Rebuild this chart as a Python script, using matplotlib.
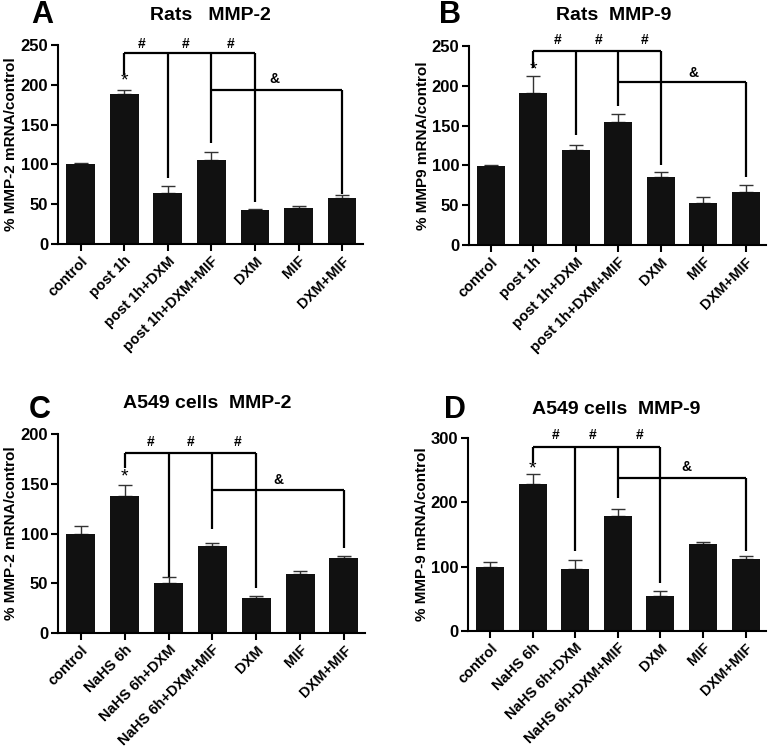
import numpy as np
import matplotlib
matplotlib.use("Agg")
import matplotlib.pyplot as plt

plt.rcParams['font.family'] = ['Liberation Sans', 'DejaVu Sans']
plt.rcParams['font.weight'] = 'bold'

# ---- data ----
rat_labels = ["control", "post 1h", "post 1h+DXM", "post 1h+DXM+MIF", "DXM", "MIF", "DXM+MIF"]
cell_labels = ["control", "NaHS 6h", "NaHS 6h+DXM", "NaHS 6h+DXM+MIF", "DXM", "MIF", "DXM+MIF"]

a_vals = [100, 188, 64, 105, 43, 45, 58]
a_err = [2, 5, 9, 11, 1, 3, 3]
b_vals = [99, 191, 119, 154, 86, 53, 67]
b_err = [2, 21, 6, 10, 6, 7, 8]
c_vals = [100, 138, 50, 87, 35, 59, 75]
c_err = [8, 11, 6, 3, 2, 3, 2]
d_vals = [100, 229, 97, 178, 55, 135, 112]
d_err = [8, 15, 14, 12, 7, 4, 5]

# bracket levels: (# bar level, ends of drops at bars 1..4), (& bar level, end of drop at bar 6)
a_hash = (240, [212, 83, 127, 53])
a_amp = (193, 63)
b_hash = (244, [222, 138, 174, 100])
b_amp = (205, 86)
c_hash = (181, [166, 56, 105, 45])
c_amp = (144, 85)
d_hash = (286, [261, 124, 206, 74])
d_amp = (238, 125)

W, H = 772, 754
fig = plt.figure(figsize=(W / 100, H / 100), dpi=100)


def add_axes(left, top, right, bottom):
    return fig.add_axes([left / W, 1 - bottom / H, (right - left) / W, (bottom - top) / H])


def panel(ax, vals, err, labels, ylim, yticks, ylabel,
          hash_br, amp_br, hash_x, hash_dy, amp_x, amp_dy, star_dy):
    x = np.arange(len(vals))
    ax.bar(x, vals, width=0.66, color='#111111', zorder=2)
    ax.errorbar(x, vals, yerr=[np.zeros(len(vals)), err], fmt='none',
                ecolor='#333333', elinewidth=1.0, capsize=5, capthick=1.0, zorder=1)

    lw = 1.6
    hy, drops = hash_br
    ax.plot([1, 4], [hy, hy], color='black', lw=lw, solid_capstyle='butt')
    for i, end in zip([1, 2, 3, 4], drops):
        ax.plot([i, i], [hy, end], color='black', lw=lw, solid_capstyle='butt')
    ay, aend = amp_br
    ax.plot([3, 6], [ay, ay], color='black', lw=lw, solid_capstyle='butt')
    ax.plot([6, 6], [ay, aend], color='black', lw=lw, solid_capstyle='butt')

    for hx in hash_x:
        ax.text(hx, hy + hash_dy, "#", ha='center', va='center', fontsize=10)
    ax.text(amp_x, ay + amp_dy, "&", ha='center', va='center', fontsize=10)
    ax.text(1, vals[1] + err[1] + star_dy, "*", ha='center', va='center', fontsize=14,
            fontweight='normal')

    ax.set_xlim(-0.52, 6.48)
    ax.set_ylim(*ylim)
    ax.set_yticks(yticks)
    ax.set_xticks(x)
    ax.set_xticklabels(labels, rotation=45, ha='right', rotation_mode='anchor',
                       fontsize=10.5, fontweight='bold')
    for t in ax.get_yticklabels():
        t.set_fontweight('bold')
        t.set_fontsize(12)
    ax.spines['top'].set_visible(False)
    ax.spines['right'].set_visible(False)
    ax.spines['left'].set_linewidth(1.5)
    ax.spines['bottom'].set_linewidth(1.5)
    ax.tick_params(axis='both', width=1.5, length=5, direction='out', pad=2)
    ax.set_ylabel(ylabel, fontsize=11, fontweight='bold')
    ax.yaxis.set_label_coords(-0.13, 0.5)


ax_a = add_axes(58, 45, 363, 244)
ax_b = add_axes(469, 46, 766, 245)
ax_c = add_axes(58, 434, 365, 633)
ax_d = add_axes(468, 438, 766, 631)

panel(ax_a, a_vals, a_err, rat_labels, (0, 250), [0, 50, 100, 150, 200, 250],
      "% MMP-2 mRNA/control",
      a_hash, a_amp, [1.4, 2.4, 3.45], 11, 4.45, 14, 12)
panel(ax_b, b_vals, b_err, rat_labels, (0, 250), [0, 50, 100, 150, 200, 250],
      "% MMP9 mRNA/control",
      b_hash, b_amp, [1.58, 2.53, 3.63], 13, 4.76, 11, 8)
panel(ax_c, c_vals, c_err, cell_labels, (0, 200), [0, 50, 100, 150, 200],
      "% MMP-2 mRNA/control",
      c_hash, c_amp, [1.6, 2.5, 3.57], 11, 4.5, 10, 8)
panel(ax_d, d_vals, d_err, cell_labels, (0, 300), [0, 100, 200, 300],
      "% MMP-9 mRNA/control",
      d_hash, d_amp, [1.55, 2.41, 3.51], 18, 4.62, 17, 8)

# titles and panel letters (pixel positions of their centres)
for txt, px, py in [("Rats   MMP-2", 210, 15), ("Rats  MMP-9", 614, 15),
                    ("A549 cells  MMP-2", 207, 404), ("A549 cells  MMP-9", 616, 410)]:
    fig.text(px / W, 1 - py / H, txt, ha='center', va='center', fontsize=14, fontweight='bold')
for txt, px, py in [("A", 42, 15), ("B", 450, 15), ("C", 40, 410), ("D", 455, 410)]:
    fig.text(px / W, 1 - py / H, txt, ha='center', va='center', fontsize=22, fontweight='bold')

fig.savefig("out.png", dpi=100)
